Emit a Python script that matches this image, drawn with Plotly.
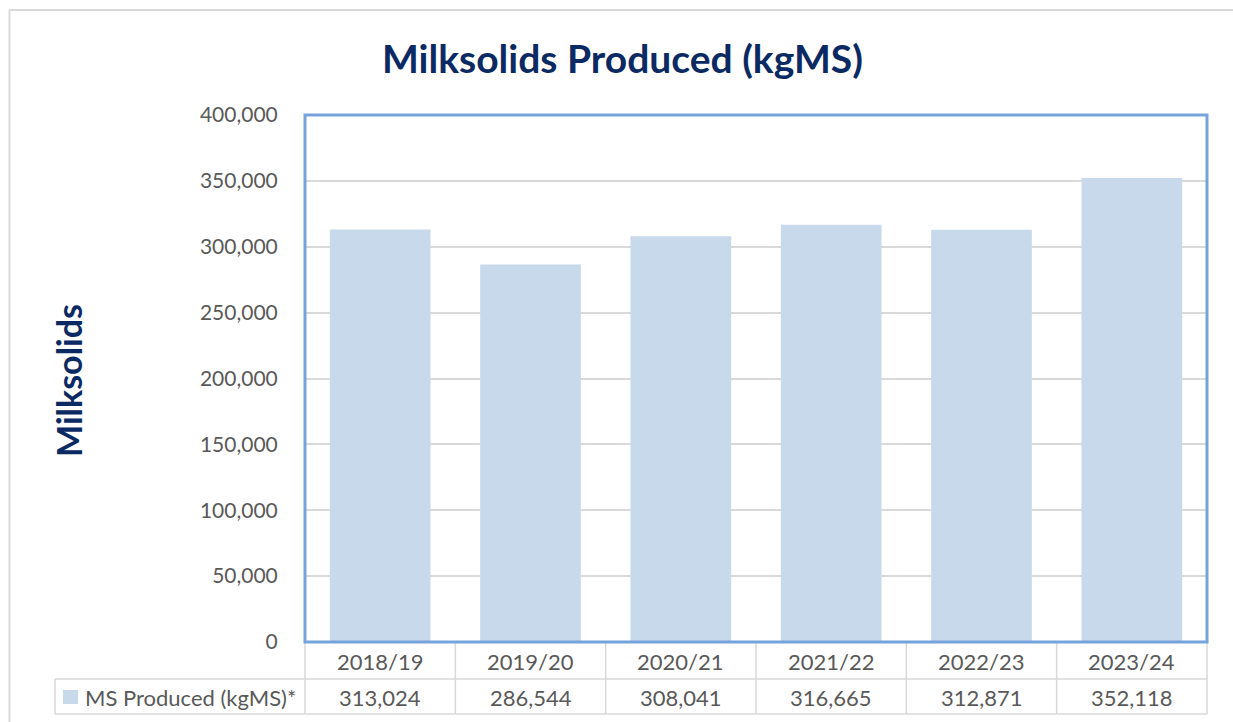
import plotly.graph_objects as go

categories = ["2018/19", "2019/20", "2020/21", "2021/22", "2022/23", "2023/24"]
ms_produced = [313024, 286544, 308041, 316665, 312871, 352118]
series_name = "MS Produced (kgMS)*"
y_ticks = [0, 50000, 100000, 150000, 200000, 250000, 300000, 350000, 400000]

W, H = 1233, 722
L, R, T, B = 305, 1207, 115, 642
PW, PH = R - L, B - T


def px(x):
    return (x - L) / PW


def py(y):
    return (B - y) / PH


BAR_COLOR = "#c9d9ec"
GRID = "#d9d9d9"
TXT = "#595959"
NAVY = "#0b2a63"
BLUE = "#77a3dd"
FONT = "Lato"

fig = go.Figure()
fig.add_trace(go.Bar(x=categories, y=ms_produced, marker_color=BAR_COLOR,
                     marker_line_width=0, name=series_name, showlegend=False))

shapes = []
# outer chart border (top and left visible)
shapes.append(dict(type="line", xref="paper", yref="paper", x0=px(9), x1=px(1240),
                   y0=py(10), y1=py(10), line=dict(color="#d9d9d9", width=2)))
shapes.append(dict(type="line", xref="paper", yref="paper", x0=px(9.5), x1=px(9.5),
                   y0=py(10), y1=py(730), line=dict(color="#d9d9d9", width=2)))

# data table grid
row_top, row_mid, row_bot = 642, 679, 714
col_edges = [L + i * PW / len(categories) for i in range(len(categories) + 1)]
for xe in col_edges:
    shapes.append(dict(type="line", xref="paper", yref="paper", x0=px(xe), x1=px(xe),
                       y0=py(row_top), y1=py(row_bot), line=dict(color=GRID, width=1.5)))
shapes.append(dict(type="line", xref="paper", yref="paper", x0=px(55), x1=px(55),
                   y0=py(row_mid), y1=py(row_bot), line=dict(color=GRID, width=1.5)))
shapes.append(dict(type="line", xref="paper", yref="paper", x0=px(55), x1=px(R),
                   y0=py(row_mid), y1=py(row_mid), line=dict(color=GRID, width=1.5)))
shapes.append(dict(type="line", xref="paper", yref="paper", x0=px(55), x1=px(R),
                   y0=py(row_bot), y1=py(row_bot), line=dict(color=GRID, width=1.5)))
# legend swatch
shapes.append(dict(type="rect", xref="paper", yref="paper", x0=px(63), x1=px(78),
                   y0=py(704), y1=py(690), fillcolor=BAR_COLOR, line=dict(width=0)))
# plot area blue border
shapes.append(dict(type="rect", xref="paper", yref="paper", x0=0, x1=1, y0=0, y1=1,
                   line=dict(color=BLUE, width=3), layer="above"))

annotations = []
annotations.append(dict(text="<b>Milksolids Produced (kgMS)</b>", xref="paper", yref="paper",
                        x=px(622), y=py(58), showarrow=False, xanchor="center", yanchor="middle",
                        font=dict(family=FONT, size=39, color=NAVY)))
annotations.append(dict(text="<b>Milksolids</b>", xref="paper", yref="paper", textangle=-90,
                        x=px(68), y=py(381), showarrow=False, xanchor="center", yanchor="middle",
                        font=dict(family=FONT, size=34, color=NAVY)))
for cat, val in zip(categories, ms_produced):
    annotations.append(dict(text=cat, xref="x", yref="paper", x=cat, y=py(661),
                            showarrow=False, xanchor="center", yanchor="middle",
                            font=dict(family=FONT, size=22, color=TXT)))
    annotations.append(dict(text=f"{val:,}", xref="x", yref="paper", x=cat, y=py(697),
                            showarrow=False, xanchor="center", yanchor="middle",
                            font=dict(family=FONT, size=22, color=TXT)))
annotations.append(dict(text=series_name, xref="paper", yref="paper", x=px(83), y=py(697),
                        showarrow=False, xanchor="left", yanchor="middle",
                        font=dict(family=FONT, size=22, color=TXT)))

fig.update_layout(
    width=W, height=H,
    margin=dict(l=L, r=W - R, t=T, b=H - B, pad=0),
    paper_bgcolor="white", plot_bgcolor="white",
    bargap=0.33,
    shapes=shapes, annotations=annotations,
    showlegend=False,
    xaxis=dict(type="category", showticklabels=False, showgrid=False, zeroline=False,
               showline=False, ticks=""),
    yaxis=dict(range=[0, 400000], tickvals=y_ticks,
               ticktext=[f"{v:,}" for v in y_ticks],
               showgrid=True, gridcolor=GRID, gridwidth=1.5, zeroline=False,
               showline=False, ticks="outside", ticklen=22, tickcolor="rgba(0,0,0,0)",
               tickfont=dict(family=FONT, size=21, color=TXT)),
)

fig.write_html("out.html")
